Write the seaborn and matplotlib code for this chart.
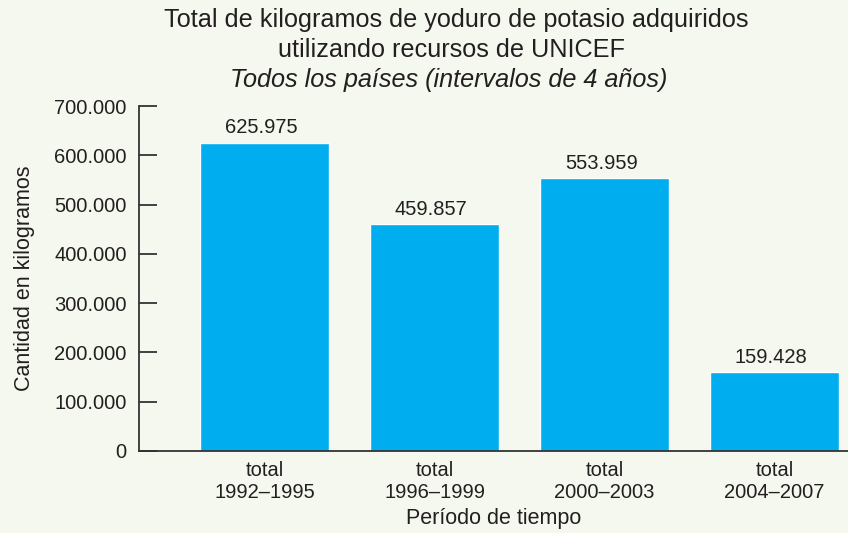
import pandas as pd
import matplotlib.pyplot as plt
import seaborn as sns
from matplotlib.ticker import FuncFormatter

# Data
periods = ['total\n1992–1995', 'total\n1996–1999', 'total\n2000–2003', 'total\n2004–2007']
kilos = [625975, 459857, 553959, 159428]
kilo_labels = ['625.975', '459.857', '553.959', '159.428']
ytick_values = [0, 100000, 200000, 300000, 400000, 500000, 600000, 700000]

df = pd.DataFrame({'periodo': periods, 'kg': kilos})

sns.set_style('white')
plt.rcParams['font.family'] = ['Liberation Sans', 'DejaVu Sans']

bg = '#f5f8ee'
txt = '#231f20'
fig = plt.figure(figsize=(8.48, 5.33), dpi=100, facecolor=bg)
ax = fig.add_axes([0.164, 0.154, 0.836, 0.647])
ax.set_facecolor(bg)

sns.barplot(data=df, x='periodo', y='kg', color='#00aeef', saturation=1,
            width=0.76, ax=ax)

for i, (v, lab) in enumerate(zip(kilos, kilo_labels)):
    ax.text(i - 0.02, v + 11000, lab, ha='center', va='bottom', fontsize=14.5, color=txt)

ax.set_xlim(-0.738, 3.432)
ax.set_ylim(0, 700000)
ax.set_yticks(ytick_values)
ax.yaxis.set_major_formatter(FuncFormatter(lambda v, p: f'{int(v):,}'.replace(',', '.')))
ax.tick_params(axis='y', left=True, direction='in', length=13, width=1.3, color='#333333',
               labelsize=14.5, labelcolor=txt, pad=9)
ax.tick_params(axis='x', bottom=False, length=0, labelsize=14.5, labelcolor=txt, pad=7)
for t in ax.get_xticklabels():
    t.set_linespacing(1.25)

for s in ['top', 'right']:
    ax.spines[s].set_visible(False)
for s in ['left', 'bottom']:
    ax.spines[s].set_color('#333333')
    ax.spines[s].set_linewidth(1.3)

ax.set_xlabel('Período de tiempo', fontsize=15.5, color=txt, labelpad=4)
ax.set_ylabel('Cantidad en kilogramos', fontsize=15.5, color=txt, labelpad=14)

fig.text(0.538, 0.962, 'Total de kilogramos de yoduro de potasio adquiridos',
         ha='center', va='center', fontsize=18.2, color=txt)
fig.text(0.532, 0.906, 'utilizando recursos de UNICEF',
         ha='center', va='center', fontsize=18.2, color=txt)
fig.text(0.529, 0.850, 'Todos los países (intervalos de 4 años)',
         ha='center', va='center', fontsize=18.2, style='italic', color=txt)

fig.savefig('out.png', dpi=100, facecolor=bg)
